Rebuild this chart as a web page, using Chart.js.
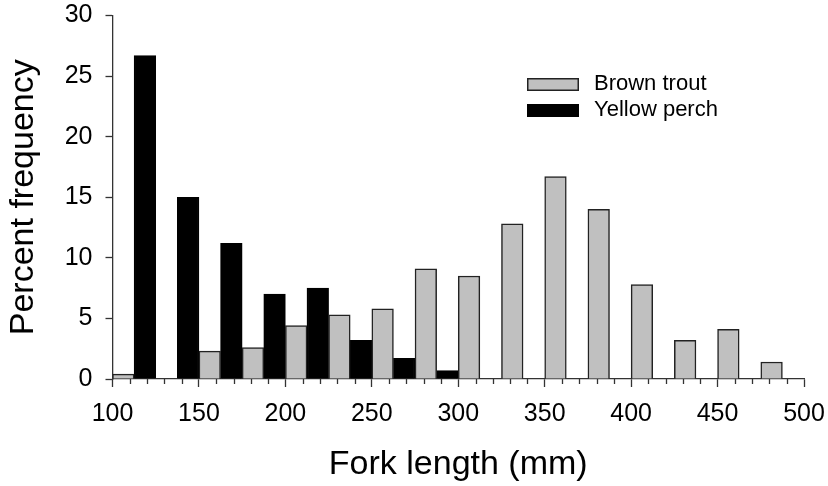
<!DOCTYPE html>
<html>
<head>
<meta charset="utf-8">
<title>Fork length distribution</title>
<script src="https://cdn.jsdelivr.net/npm/chart.js@4.4.0/dist/chart.umd.min.js"></script>
<style>
  body { margin: 0; background: #fff; }
  #wrap { width: 828px; height: 486px; }
</style>
</head>
<body>
<div id="wrap"><canvas id="lengthChart"></canvas></div>
<script>
// 25 mm length classes (lower edge of each class)
const binStarts = [100, 125, 150, 175, 200, 225, 250, 275, 300, 325, 350, 375, 400, 425, 450, 475];
const binWidth = 25;

// percent of fish in each class
const brownTrout = [0.4, 0, 2.3, 2.6, 4.4, 5.3, 5.8, 9.1, 8.5, 12.8, 16.7, 14.0, 7.8, 3.2, 4.1, 1.4];
const yellowPerch = [26.7, 15.0, 11.2, 7.0, 7.5, 3.2, 1.7, 0.7, 0, 0, 0, 0, 0, 0, 0, 0];

const xTicks = [100, 150, 200, 250, 300, 350, 400, 450, 500];
const xMinorStep = 10;
const yTicks = [0, 5, 10, 15, 20, 25, 30];

const FONT = "'Liberation Sans', Arial, sans-serif";
const AXIS = '#333';

// each class is plotted at its midpoint, the two species side by side
const toPoints = (values) => values.map((v, i) => ({ x: binStarts[i] + binWidth / 2, y: v }));

// small ticks between the labelled ones on the x axis
const minorTicks = {
    id: 'minorTicks',
    afterDraw(chart) {
        const xs = chart.scales.x;
        const ctx = chart.ctx;
        const top = chart.chartArea.bottom;
        ctx.save();
        ctx.strokeStyle = AXIS;
        ctx.lineWidth = 1.3;
        for (let v = xTicks[0]; v <= xTicks[xTicks.length - 1]; v += xMinorStep) {
            if (xTicks.includes(v)) continue;
            const px = Math.round(xs.getPixelForValue(v)) + 0.5;
            ctx.beginPath();
            ctx.moveTo(px, top);
            ctx.lineTo(px, top + 5);
            ctx.stroke();
        }
        ctx.restore();
    }
};

// legend drawn inside the plot, upper right
const legendBox = {
    id: 'legendBox',
    afterDraw(chart) {
        const ctx = chart.ctx;
        const x = 527, y0 = 78, rowGap = 26, boxW = 52, boxH = 13;
        ctx.save();
        chart.data.datasets.forEach((ds, i) => {
            const y = y0 + i * rowGap;
            ctx.fillStyle = ds.backgroundColor;
            ctx.fillRect(x, y, boxW, boxH);
            ctx.strokeStyle = ds.borderColor;
            ctx.lineWidth = 1.5;
            ctx.strokeRect(x + 0.75, y + 0.75, boxW - 1.5, boxH - 1.5);
            ctx.fillStyle = '#000';
            ctx.font = '22px ' + FONT;
            ctx.textBaseline = 'middle';
            ctx.fillText(ds.label, x + boxW + 15, y + boxH / 2 - 1);
        });
        ctx.restore();
    }
};

new Chart(document.getElementById('lengthChart'), {
    type: 'bar',
    data: {
        datasets: [
            {
                label: 'Brown trout',
                data: toPoints(brownTrout),
                backgroundColor: '#c0c0c0',
                borderColor: '#222',
                borderWidth: 1.5
            },
            {
                label: 'Yellow perch',
                data: toPoints(yellowPerch),
                backgroundColor: '#000',
                borderColor: '#000',
                borderWidth: 1.5
            }
        ]
    },
    options: {
        responsive: true,
        maintainAspectRatio: false,
        animation: false,
        devicePixelRatio: 1,
        categoryPercentage: 1,
        barPercentage: 1,
        layout: { padding: { top: 15.5, right: 24, bottom: 0, left: 0 } },
        plugins: {
            legend: { display: false },
            tooltip: { enabled: false }
        },
        scales: {
            x: {
                type: 'linear',
                offset: false,
                min: xTicks[0],
                max: xTicks[xTicks.length - 1],
                afterBuildTicks: (s) => { s.ticks = xTicks.map(v => ({ value: v })); },
                afterFit: (s) => {
                    s.height = 107;
                    s.paddingLeft = 0;
                    s.paddingRight = 0;
                },
                grid: { offset: false, drawOnChartArea: false, tickLength: 8, tickColor: AXIS, tickWidth: 1.3 },
                border: { color: AXIS, width: 1.3 },
                ticks: { color: '#000', padding: 12, maxRotation: 0, font: { family: FONT, size: 25 } },
                title: {
                    display: true,
                    text: 'Fork length (mm)',
                    color: '#000',
                    padding: { top: 0, bottom: 1 },
                    font: { family: FONT, size: 34 }
                }
            },
            y: {
                min: yTicks[0],
                max: yTicks[yTicks.length - 1],
                afterBuildTicks: (s) => { s.ticks = yTicks.map(v => ({ value: v })); },
                afterFit: (s) => {
                    s.width = 112.5;
                    s.paddingTop = 0;
                    s.paddingBottom = 0;
                },
                grid: { drawOnChartArea: false, tickLength: 7, tickColor: AXIS, tickWidth: 1.3 },
                border: { color: AXIS, width: 1.3 },
                ticks: { color: '#000', padding: 13, font: { family: FONT, size: 25 } },
                title: {
                    display: true,
                    text: 'Percent frequency',
                    color: '#000',
                    padding: { top: 3, bottom: 0 },
                    font: { family: FONT, size: 34 }
                }
            }
        }
    },
    plugins: [minorTicks, legendBox]
});
</script>
</body>
</html>
